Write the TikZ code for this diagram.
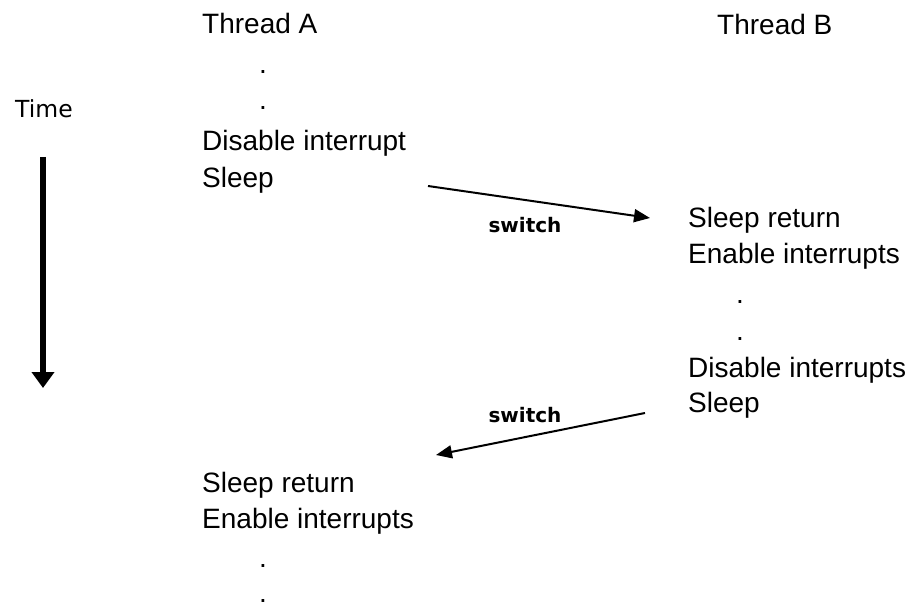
\documentclass[tikz,border=0pt]{standalone}
\usepackage{fontspec}
\usetikzlibrary{arrows.meta}
\newfontfamily\stepfont{Liberation Sans}
\newfontfamily\labelfont{DejaVu Sans}

\tikzset{
  steptext/.style={anchor=base west, inner sep=0pt, font=\stepfont\fontsize{28}{32}\selectfont},
  switchtext/.style={anchor=base, inner sep=0pt, font=\labelfont\bfseries\fontsize{20}{24}\selectfont},
  switcharrow/.style={line width=2pt, -{Triangle[length=16pt,width=13pt]}},
  timearrow/.style={line width=6pt, -{Triangle[length=16pt,width=22pt]}}
}

\begin{document}
\begin{tikzpicture}[x=1pt,y=-1pt]
  \useasboundingbox (0,0) rectangle (916,607);

  % time axis
  \node[anchor=base west, inner sep=0pt, font=\labelfont\fontsize{23.5}{27}\selectfont] (time) at (15,118) {Time};
  \coordinate (timetop) at (43,157);
  \coordinate (timeend) at (43,388);
  \draw[timearrow] (timetop) -- (timeend);

  % thread A
  \node[steptext] (threadA) at (202,34) {Thread A};
  \node[steptext] (dotA1) at (259,74) {.};
  \node[steptext] (dotA2) at (259,110) {.};
  \node[steptext] (disableA) at (202,150) {Disable interrupt};
  \node[steptext] (sleepA) at (202,188) {Sleep};

  % thread B
  \node[steptext] (threadB) at (717,35) {Thread B};
  \node[steptext] (returnB) at (688,227) {Sleep return};
  \node[steptext] (enableB) at (688,263) {Enable interrupts};
  \node[steptext] (dotB1) at (736,303) {.};
  \node[steptext] (dotB2) at (736,340) {.};
  \node[steptext] (disableB) at (688,377) {Disable interrupts};
  \node[steptext] (sleepB) at (688,412) {Sleep};

  % back in thread A
  \node[steptext] (returnA) at (202,492) {Sleep return};
  \node[steptext] (enableA) at (202,528) {Enable interrupts};
  \node[steptext] (dotA3) at (259,567) {.};
  \node[steptext] (dotA4) at (259,602) {.};

  % switch A -> B
  \coordinate (outA) at (428,186);
  \coordinate (inB) at (650,218);
  \draw[switcharrow] (outA) -- (inB);
  \node[switchtext] (switchAB) at (525,233) {switch};

  % switch B -> A
  \coordinate (outB) at (645,413);
  \coordinate (inA) at (436,455);
  \draw[switcharrow] (outB) -- (inA);
  \node[switchtext] (switchBA) at (525,422) {switch};
\end{tikzpicture}
\end{document}
